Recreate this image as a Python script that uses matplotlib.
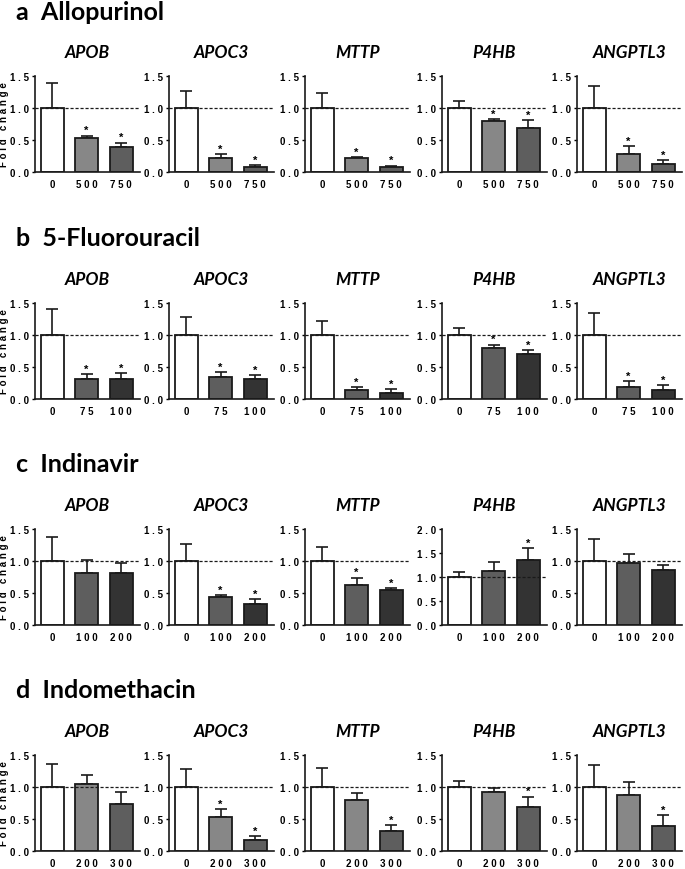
import numpy as np
import matplotlib.pyplot as plt

genes = ['APOB', 'APOC3', 'MTTP', 'P4HB', 'ANGPTL3']

# row a - Allopurinol
a_doses = ['0', '500', '750']
a_mean = [[1.0, 0.535, 0.385], [1.0, 0.22, 0.078], [1.0, 0.22, 0.073],
          [1.0, 0.80, 0.69], [1.0, 0.28, 0.125]]
a_err = [[0.39, 0.035, 0.075], [0.27, 0.055, 0.032], [0.23, 0.015, 0.027],
         [0.11, 0.03, 0.12], [0.35, 0.12, 0.055]]
a_sig = [[0, 1, 1], [0, 1, 1], [0, 1, 1], [0, 1, 1], [0, 1, 1]]

# row b - 5-Fluorouracil
b_doses = ['0', '75', '100']
b_mean = [[1.0, 0.306, 0.317], [1.0, 0.35, 0.317], [1.0, 0.133, 0.10],
          [1.0, 0.79, 0.71], [1.0, 0.19, 0.14]]
b_err = [[0.40, 0.084, 0.083], [0.28, 0.075, 0.053], [0.22, 0.051, 0.05],
         [0.11, 0.06, 0.05], [0.34, 0.095, 0.08]]
b_sig = [[0, 1, 1], [0, 1, 1], [0, 1, 1], [0, 1, 1], [0, 1, 1]]

# row c - Indinavir
c_doses = ['0', '100', '200']
c_mean = [[1.0, 0.81, 0.81], [1.0, 0.43, 0.33], [1.0, 0.62, 0.55],
          [1.0, 1.13, 1.35], [1.0, 0.97, 0.86]]
c_err = [[0.38, 0.20, 0.16], [0.26, 0.035, 0.07], [0.22, 0.12, 0.03],
         [0.11, 0.19, 0.25], [0.34, 0.14, 0.08]]
c_sig = [[0, 0, 0], [0, 1, 1], [0, 1, 1], [0, 0, 1], [0, 0, 0]]

# row d - Indomethacin
d_doses = ['0', '200', '300']
d_mean = [[1.0, 1.05, 0.73], [1.0, 0.53, 0.17], [1.0, 0.79, 0.31],
          [1.0, 0.92, 0.69], [1.0, 0.87, 0.385]]
d_err = [[0.36, 0.14, 0.19], [0.28, 0.12, 0.06], [0.29, 0.11, 0.10],
         [0.09, 0.07, 0.16], [0.35, 0.21, 0.175]]
d_sig = [[0, 0, 0], [0, 1, 1], [0, 0, 1], [0, 0, 1], [0, 0, 1]]

light = ['white', '#878787', '#5e5e5e']
dark = ['white', '#5e5e5e', '#333333']

rows = [
    ('a', 'Allopurinol', a_doses, a_mean, a_err, a_sig, light),
    ('b', '5-Fluorouracil', b_doses, b_mean, b_err, b_sig, dark),
    ('c', 'Indinavir', c_doses, c_mean, c_err, c_sig, dark),
    ('d', 'Indomethacin', d_doses, d_mean, d_err, d_sig, light),
]

W, H = 685, 870
fig = plt.figure(figsize=(W / 100, H / 100), dpi=100)

row_top = [77, 304, 530, 756]
ax_h = 96
col_left = [35, 169, 305, 442, 577]
ax_w = 105

def spaced(s):
    return ' '.join(s)

tick_font = dict(family='Liberation Sans', weight='bold', size=7)

for r, (letter, drug, doses, means, errs, sigs, colors) in enumerate(rows):
    top = row_top[r]
    fig.text(16 / W, 1 - (top - 65) / H, f'{letter}  {drug}', fontsize=18,
             fontweight='bold', family='Lato', va='center', ha='left')
    for g, gene in enumerate(genes):
        ax = fig.add_axes([col_left[g] / W, 1 - (top + ax_h) / H, ax_w / W, ax_h / H])
        x = np.arange(3)
        ax.bar(x, means[g], width=0.67, color=colors, edgecolor='#1a1a1a',
               linewidth=1.3, zorder=2)
        ax.errorbar(x, means[g], yerr=[[0, 0, 0], errs[g]], fmt='none',
                    ecolor='#1a1a1a', elinewidth=1.2, capsize=4.5, capthick=1.2,
                    zorder=1)
        ymax = 2.0 if max(np.array(means[g]) + np.array(errs[g])) > 1.5 else 1.5
        for i in range(3):
            if sigs[g][i]:
                ax.text(x[i], means[g][i] + errs[g][i] + 0.005 * ymax / 1.5,
                        '*', ha='center', va='bottom', fontsize=8,
                        family='Liberation Sans', fontweight='bold')
        ax.axhline(1.0, color='#1a1a1a', linestyle=(0, (2.5, 1.5)), linewidth=0.9,
                   zorder=3, clip_on=False)
        ax.set_xlim(-0.5, 2.55)
        ax.set_ylim(0, ymax)
        yt = np.arange(0, ymax + 0.01, 0.5)
        ax.set_yticks(yt)
        ax.set_yticklabels([spaced(f'{v:.1f}') for v in yt], **tick_font)
        ax.set_xticks(x)
        ax.set_xticklabels([spaced(d) for d in doses], **tick_font)
        ax.tick_params(axis='y', length=2.5, width=1.0, pad=1.5)
        ax.tick_params(axis='x', length=0, pad=5)
        for s in ['top', 'right']:
            ax.spines[s].set_visible(False)
        for s in ['left', 'bottom']:
            ax.spines[s].set_linewidth(1.2)
            ax.spines[s].set_color('#1a1a1a')
        ax.set_title(gene, fontsize=12.5, fontweight='bold', style='italic',
                     family='Lato', pad=14)
        if g == 0:
            ax.set_ylabel(spaced('Fold') + '   ' + spaced('change'), family='Liberation Sans',
                          fontweight='bold', fontsize=7)
            ax.yaxis.set_label_coords(-0.25, 0.5)

fig.savefig('out.png', dpi=100)
